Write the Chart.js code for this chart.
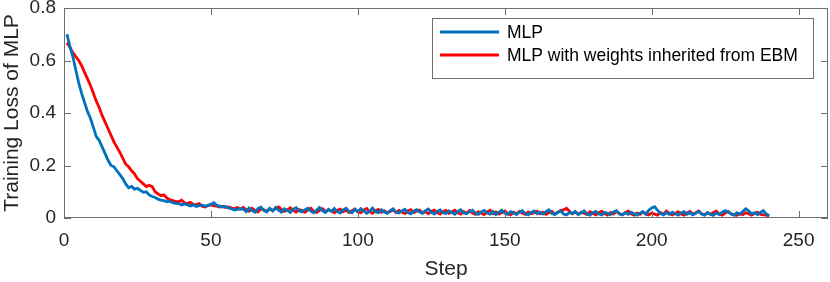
<!DOCTYPE html>
<html>
<head>
<meta charset="utf-8">
<script src="https://cdn.jsdelivr.net/npm/chart.js@4.4.1/dist/chart.umd.min.js"></script>
<style>
  html, body { margin: 0; padding: 0; background: #fff; }
  #wrap { width: 830px; height: 282px; }
</style>
</head>
<body>
<div id="wrap"><canvas id="losschart" width="830" height="282"></canvas></div>
<script>
// Training loss per step
const xTicks = [0, 50, 100, 150, 200, 250];
const yTicks = [0, 0.2, 0.4, 0.6, 0.8];
const seriesNames = ["MLP", "MLP with weights inherited from EBM"];

const lossMLP = [
  0.700, 0.655, 0.615, 0.565, 0.515, 0.475, 0.440, 0.405, 0.380, 0.345,
  0.310, 0.295, 0.270, 0.245, 0.220, 0.200, 0.195, 0.180, 0.165, 0.150,
  0.130, 0.115, 0.120, 0.110, 0.113, 0.105, 0.098, 0.100, 0.088, 0.082,
  0.078, 0.072, 0.068, 0.066, 0.062, 0.064, 0.058, 0.056, 0.055, 0.050,
  0.054, 0.050, 0.046, 0.050, 0.044, 0.047, 0.050, 0.045, 0.048, 0.052,
  0.058, 0.048, 0.045, 0.042, 0.044, 0.038, 0.035, 0.030, 0.033, 0.036,
  0.034, 0.024, 0.038, 0.028, 0.022, 0.036, 0.041, 0.029, 0.023, 0.037,
  0.027, 0.040, 0.030, 0.022, 0.035, 0.029, 0.021, 0.034, 0.039, 0.027,
  0.023, 0.032, 0.037, 0.026, 0.020, 0.030, 0.040, 0.027, 0.021, 0.033,
  0.025, 0.036, 0.024, 0.019, 0.031, 0.037, 0.025, 0.020, 0.033, 0.024,
  0.036, 0.027, 0.018, 0.026, 0.038, 0.024, 0.020, 0.031, 0.023, 0.018,
  0.028, 0.035, 0.022, 0.019, 0.027, 0.033, 0.021, 0.016, 0.026, 0.032,
  0.023, 0.018, 0.028, 0.034, 0.021, 0.015, 0.025, 0.031, 0.020, 0.017,
  0.027, 0.021, 0.014, 0.025, 0.031, 0.019, 0.016, 0.024, 0.030, 0.018,
  0.014, 0.023, 0.029, 0.019, 0.015, 0.025, 0.013, 0.022, 0.029, 0.018,
  0.014, 0.024, 0.020, 0.013, 0.022, 0.028, 0.016, 0.012, 0.021, 0.027,
  0.016, 0.022, 0.015, 0.024, 0.031, 0.018, 0.013, 0.021, 0.027, 0.015,
  0.012, 0.021, 0.017, 0.025, 0.013, 0.019, 0.027, 0.015, 0.011, 0.020,
  0.025, 0.015, 0.012, 0.022, 0.018, 0.013, 0.023, 0.028, 0.015, 0.012,
  0.020, 0.014, 0.022, 0.016, 0.011, 0.018, 0.024, 0.014, 0.030, 0.038,
  0.043, 0.029, 0.017, 0.012, 0.020, 0.014, 0.022, 0.016, 0.011, 0.019,
  0.024, 0.014, 0.020, 0.012, 0.018, 0.025, 0.015, 0.011, 0.020, 0.014,
  0.010, 0.019, 0.013, 0.022, 0.028, 0.023, 0.015, 0.011, 0.020, 0.014,
  0.025, 0.035, 0.027, 0.016, 0.020, 0.013, 0.021, 0.028, 0.015, 0.009
];

const lossInherited = [
  0.668, 0.650, 0.630, 0.615, 0.600, 0.580, 0.555, 0.530, 0.505, 0.475,
  0.445, 0.420, 0.390, 0.365, 0.340, 0.315, 0.290, 0.270, 0.250, 0.228,
  0.205, 0.195, 0.180, 0.168, 0.150, 0.140, 0.130, 0.120, 0.125, 0.120,
  0.100, 0.092, 0.085, 0.088, 0.076, 0.070, 0.066, 0.063, 0.062, 0.068,
  0.058, 0.055, 0.060, 0.052, 0.050, 0.055, 0.045, 0.042, 0.048, 0.050,
  0.046, 0.045, 0.042, 0.044, 0.040, 0.042, 0.038, 0.036, 0.040, 0.034,
  0.040, 0.032, 0.026, 0.037, 0.029, 0.023, 0.036, 0.031, 0.025, 0.035,
  0.028, 0.036, 0.042, 0.033, 0.025, 0.031, 0.039, 0.029, 0.023, 0.032,
  0.028, 0.022, 0.031, 0.037, 0.026, 0.021, 0.029, 0.035, 0.024, 0.031,
  0.027, 0.020, 0.030, 0.034, 0.024, 0.030, 0.021, 0.028, 0.034, 0.023,
  0.020, 0.030, 0.036, 0.024, 0.018, 0.028, 0.033, 0.022, 0.027, 0.020,
  0.025, 0.031, 0.020, 0.029, 0.023, 0.017, 0.027, 0.032, 0.021, 0.026,
  0.030, 0.020, 0.024, 0.016, 0.026, 0.030, 0.020, 0.015, 0.025, 0.029,
  0.018, 0.023, 0.030, 0.020, 0.015, 0.024, 0.018, 0.028, 0.019, 0.014,
  0.024, 0.018, 0.013, 0.023, 0.029, 0.016, 0.023, 0.015, 0.021, 0.027,
  0.017, 0.012, 0.022, 0.016, 0.025, 0.018, 0.014, 0.023, 0.016, 0.020,
  0.026, 0.016, 0.022, 0.014, 0.020, 0.025, 0.015, 0.022, 0.028, 0.031,
  0.037, 0.026, 0.016, 0.023, 0.015, 0.022, 0.018, 0.013, 0.024, 0.017,
  0.012, 0.020, 0.026, 0.016, 0.011, 0.021, 0.015, 0.025, 0.017, 0.012,
  0.020, 0.027, 0.016, 0.011, 0.019, 0.014, 0.023, 0.016, 0.012, 0.019,
  0.015, 0.011, 0.021, 0.014, 0.026, 0.018, 0.012, 0.017, 0.024, 0.015,
  0.011, 0.019, 0.025, 0.014, 0.020, 0.027, 0.016, 0.012, 0.020, 0.014,
  0.021, 0.026, 0.015, 0.011, 0.019, 0.025, 0.016, 0.012, 0.010, 0.017,
  0.013, 0.020, 0.016, 0.011, 0.018, 0.022, 0.014, 0.012, 0.011, 0.008
];

const FONT = '"Liberation Sans", Arial, Helvetica, sans-serif';
const TEXT_COLOR = '#262626';
const BOX_COLOR = '#6e6e6e';

function toPoints(arr) {
  return arr.map((v, i) => ({ x: i + 1, y: v }));
}

// box round the axes, ticks pointing inward (matlab style) and the legend
const matlabAxes = {
  id: 'matlabAxes',
  afterDraw(chart) {
    const ctx = chart.ctx;
    const a = chart.chartArea;
    const xs = chart.scales.x, ys = chart.scales.y;
    ctx.save();
    ctx.strokeStyle = BOX_COLOR;
    ctx.lineWidth = 1;
    ctx.strokeRect(a.left + 0.5, a.top + 0.5, a.right - a.left - 1, a.bottom - a.top - 1);
    ctx.beginPath();
    xTicks.forEach(t => {
      const px = Math.round(xs.getPixelForValue(t)) + 0.5;
      ctx.moveTo(px, a.bottom); ctx.lineTo(px, a.bottom - 7);
      ctx.moveTo(px, a.top); ctx.lineTo(px, a.top + 7);
    });
    yTicks.forEach(t => {
      const py = Math.round(ys.getPixelForValue(t)) + 0.5;
      ctx.moveTo(a.left, py); ctx.lineTo(a.left + 7, py);
      ctx.moveTo(a.right, py); ctx.lineTo(a.right - 7, py);
    });
    ctx.stroke();

    // legend
    const lx = 432, ly = 18, lw = 381, lh = 60;
    ctx.fillStyle = '#fff';
    ctx.fillRect(lx, ly, lw, lh);
    ctx.strokeStyle = BOX_COLOR;
    ctx.strokeRect(lx + 0.5, ly + 0.5, lw, lh);
    ctx.font = '17.5px ' + FONT;
    ctx.textBaseline = 'middle';
    ctx.fillStyle = '#000';
    chart.data.datasets.forEach((ds, i) => {
      const y = ly + 14 + i * 23;
      ctx.strokeStyle = ds.borderColor;
      ctx.lineWidth = 2.8;
      ctx.beginPath();
      ctx.moveTo(440, y); ctx.lineTo(499, y);
      ctx.stroke();
      ctx.fillText(ds.label, 507, y + 1);
    });
    ctx.restore();
  }
};

const ctx = document.getElementById('losschart');
const losschart = new Chart(ctx, {
  type: 'line',
  data: {
    datasets: [
      {
        label: seriesNames[0],
        data: toPoints(lossMLP),
        borderColor: '#0072BD',
        borderWidth: 2.8,
        pointRadius: 0,
        tension: 0
      },
      {
        label: seriesNames[1],
        data: toPoints(lossInherited),
        borderColor: '#FF0000',
        borderWidth: 2.8,
        pointRadius: 0,
        tension: 0
      }
    ]
  },
  options: {
    responsive: false,
    animation: false,
    layout: { padding: { top: 8, right: 2, left: 0, bottom: 0 } },
    plugins: {
      legend: { display: false },
      tooltip: { enabled: false }
    },
    scales: {
      x: {
        type: 'linear',
        min: 0,
        max: 260,
        afterBuildTicks: s => { s.ticks = xTicks.map(v => ({ value: v })); },
        afterFit: s => { s.height = 64; s.paddingLeft = 0; s.paddingRight = 0; },
        grid: { display: false, drawTicks: false },
        border: { display: false },
        ticks: {
          color: TEXT_COLOR,
          font: { family: FONT, size: 19 },
          padding: 11,
          maxRotation: 0
        },
        title: {
          display: true,
          text: 'Step',
          color: TEXT_COLOR,
          font: { family: FONT, size: 21 },
          padding: { top: 0, bottom: 0 }
        }
      },
      y: {
        min: 0,
        max: 0.8,
        afterBuildTicks: s => { s.ticks = yTicks.map(v => ({ value: v })); },
        afterFit: s => { s.width = 64; s.paddingTop = 0; s.paddingBottom = 0; },
        grid: { display: false, drawTicks: false },
        border: { display: false },
        ticks: {
          color: TEXT_COLOR,
          font: { family: FONT, size: 19 },
          padding: 8,
          callback: v => v === 0 ? '0' : v.toFixed(1)
        },
        title: {
          display: true,
          text: 'Training Loss of MLP',
          color: TEXT_COLOR,
          font: { family: FONT, size: 21 },
          padding: { top: 0, bottom: 0 }
        }
      }
    }
  },
  plugins: [matlabAxes]
});
</script>
</body>
</html>
